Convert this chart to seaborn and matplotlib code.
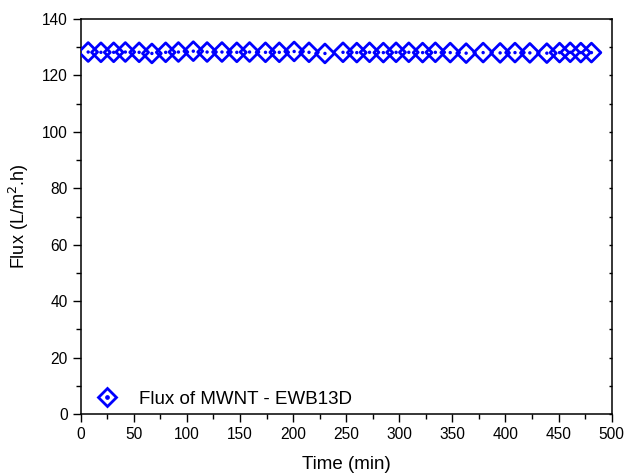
import matplotlib
matplotlib.use("Agg")
import matplotlib.pyplot as plt
import seaborn as sns
import pandas as pd
from matplotlib.ticker import MultipleLocator
from matplotlib.lines import Line2D

sns.set_style("white")
plt.rcParams['font.family'] = ['Liberation Sans', 'DejaVu Sans']
plt.rcParams['text.color'] = 'black'
plt.rcParams['axes.labelcolor'] = 'black'
plt.rcParams['xtick.color'] = 'black'
plt.rcParams['ytick.color'] = 'black'

time_min = [7, 19, 31, 42, 55, 67, 80, 92, 106, 119, 133, 147, 159, 174, 187,
            201, 215, 230, 247, 260, 272, 285, 297, 309, 322, 334, 348, 363,
            379, 395, 409, 423, 439, 451, 461, 471, 481]
flux = [128.3, 128.2, 128.2, 128.3, 128.2, 127.8, 128.2, 128.3, 128.6, 128.3,
        128.3, 128.2, 128.3, 128.2, 128.2, 128.5, 128.2, 127.8, 128.2, 128.1,
        128.2, 128.1, 128.2, 128.2, 128.1, 128.2, 128.1, 127.9, 128.1, 128.0,
        128.1, 128.0, 127.9, 128.1, 128.2, 128.1, 128.1]
series_label = "Flux of MWNT - EWB13D"

df = pd.DataFrame({"Time (min)": time_min, "Flux": flux})

fig = plt.figure(figsize=(6.26, 4.73), dpi=100)
ax = fig.add_axes([0.129, 0.1247, 0.848, 0.8351])

sns.scatterplot(data=df, x="Time (min)", y="Flux", ax=ax, marker="D", s=92,
                facecolor="none", edgecolor="#0000FF", linewidth=2.0, zorder=3)
sns.scatterplot(data=df, x="Time (min)", y="Flux", ax=ax, marker="o", s=6,
                color="#0000FF", edgecolor="none", linewidth=0, zorder=4)

ax.set_xlim(0, 500)
ax.set_ylim(0, 140)
ax.xaxis.set_major_locator(MultipleLocator(50))
ax.xaxis.set_minor_locator(MultipleLocator(25))
ax.yaxis.set_major_locator(MultipleLocator(20))
ax.yaxis.set_minor_locator(MultipleLocator(10))

ax.tick_params(axis="both", which="major", direction="out", length=6, width=1,
               color="black", labelcolor="black", labelsize=11.2,
               bottom=True, left=True, top=False)
ax.tick_params(axis="both", which="minor", direction="out", length=3.5, width=1,
               color="black", bottom=True, left=True, top=False)

for sp in ax.spines.values():
    sp.set_visible(True)
    sp.set_color("black")
    sp.set_linewidth(1.1)

ax.set_xlabel("Time (min)", fontsize=13.5, labelpad=10, color="black")
ax.set_ylabel("Flux (L/m$^2$.h)", fontsize=13, labelpad=8, color="black")

handle = Line2D([], [], marker="D", linestyle="none", markersize=9.5,
                markerfacecolor="none", markeredgecolor="#0000FF",
                markeredgewidth=2.0)
dot = Line2D([], [], marker="o", linestyle="none", markersize=2.4,
             color="#0000FF")
ax.legend([(handle, dot)], [series_label], loc="lower left", frameon=False,
          fontsize=13.5, handletextpad=1.0, handlelength=1.4,
          borderaxespad=0.0, bbox_to_anchor=(0.01, -0.003), labelcolor="black")

# right ticks: short, inward, no labels
ax.tick_params(axis="y", which="both", right=True, labelright=False)
for t in ax.yaxis.get_major_ticks() + ax.yaxis.get_minor_ticks():
    t.tick2line.set_markersize(2.5)
    t.tick2line.set_marker(0)  # points left -> inward on right spine

fig.savefig("out.png", dpi=100)
